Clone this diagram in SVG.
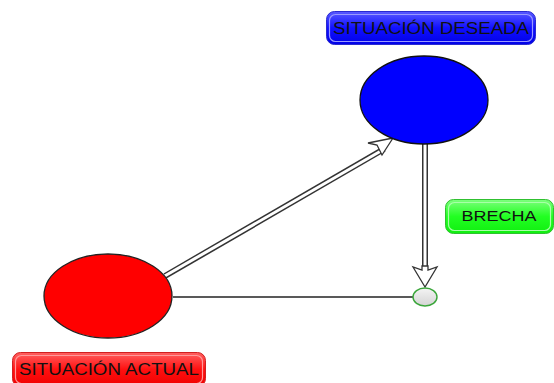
<svg xmlns="http://www.w3.org/2000/svg" width="554" height="383" viewBox="0 0 554 383">
  <defs>
    <linearGradient id="gBlue" x1="0" y1="0" x2="0" y2="1">
      <stop offset="0" stop-color="#5a5aff"/>
      <stop offset="0.5" stop-color="#1010ff"/>
      <stop offset="1" stop-color="#0000e6"/>
    </linearGradient>
    <linearGradient id="gRed" x1="0" y1="0" x2="0" y2="1">
      <stop offset="0" stop-color="#ff6060"/>
      <stop offset="0.5" stop-color="#ff1010"/>
      <stop offset="1" stop-color="#f00000"/>
    </linearGradient>
    <linearGradient id="gGreen" x1="0" y1="0" x2="0" y2="1">
      <stop offset="0" stop-color="#7dff7d"/>
      <stop offset="0.5" stop-color="#22ff22"/>
      <stop offset="1" stop-color="#10ee10"/>
    </linearGradient>
    <linearGradient id="gGrey" x1="0" y1="0" x2="0" y2="1">
      <stop offset="0" stop-color="#f4f4f4"/>
      <stop offset="1" stop-color="#d4d4d4"/>
    </linearGradient>
  </defs>
  <style>
    .lbl { font-family: "Liberation Sans", Arial, sans-serif; fill: #111; text-anchor: middle; }
    .shaft-o { fill: none; stroke: #333; stroke-width: 6; }
    .shaft-i { fill: none; stroke: #fff; stroke-width: 3; }
    .head { fill: #fff; stroke: #333; stroke-width: 1.3; stroke-linejoin: miter; }
  </style>
  <rect width="554" height="383" fill="#fff"/>

  <!-- connectors -->
  <g id="connectors">
    <line x1="173" y1="297" x2="414" y2="297" stroke="#222" stroke-width="1.4"/>
    <!-- current -> desired -->
    <path class="shaft-o" d="M165 276 L384 149"/>
    <path class="shaft-i" d="M163 277 L386 148"/>
    <polygon class="head" points="393,138 368,143 377,145 382,155"/>
    <!-- desired -> gap -->
    <path class="shaft-o" d="M425 144 L425 270"/>
    <path class="shaft-i" d="M425 143 L425 271"/>
    <polygon class="head" points="425,287 413,267 422,270 422,266 428,266 428,270 437,267"/>
  </g>

  <g id="actual">
    <ellipse cx="108" cy="296" rx="64" ry="42" fill="#ff0000" stroke="#222" stroke-width="1.3"/>
  </g>
  <g id="deseada">
    <ellipse cx="424" cy="100" rx="64" ry="44" fill="#0000ff" stroke="#111" stroke-width="1.3"/>
  </g>
  <g id="brecha-punto">
    <ellipse cx="425" cy="297" rx="12" ry="9" fill="url(#gGrey)" stroke="#3aa63a" stroke-width="1.4"/>
  </g>

  <g id="label-deseada">
    <rect x="326.5" y="11.5" width="209" height="33" rx="8" fill="url(#gBlue)" stroke="#2a2ad0" stroke-width="1"/>
    <rect x="329.5" y="14.5" width="203" height="27" rx="6" fill="none" stroke="#9a9aff" stroke-width="1.2"/>
    <text class="lbl" x="431" y="34" font-size="16" textLength="196" lengthAdjust="spacingAndGlyphs">SITUACIÓN  DESEADA</text>
  </g>
  <g id="label-actual">
    <rect x="12.5" y="352.5" width="193" height="34" rx="8" fill="url(#gRed)" stroke="#d02020" stroke-width="1"/>
    <rect x="15.5" y="355.5" width="187" height="28" rx="6" fill="none" stroke="#ff9a9a" stroke-width="1.2"/>
    <text class="lbl" x="109" y="375" font-size="16" textLength="180" lengthAdjust="spacingAndGlyphs">SITUACIÓN ACTUAL</text>
  </g>
  <g id="label-brecha">
    <rect x="445.5" y="199.5" width="108" height="34" rx="8" fill="url(#gGreen)" stroke="#30c030" stroke-width="1"/>
    <rect x="448.5" y="202.5" width="102" height="28" rx="6" fill="none" stroke="#a8ffa8" stroke-width="1.2"/>
    <text class="lbl" x="499" y="221" font-size="15" textLength="75" lengthAdjust="spacingAndGlyphs">BRECHA</text>
  </g>
</svg>
